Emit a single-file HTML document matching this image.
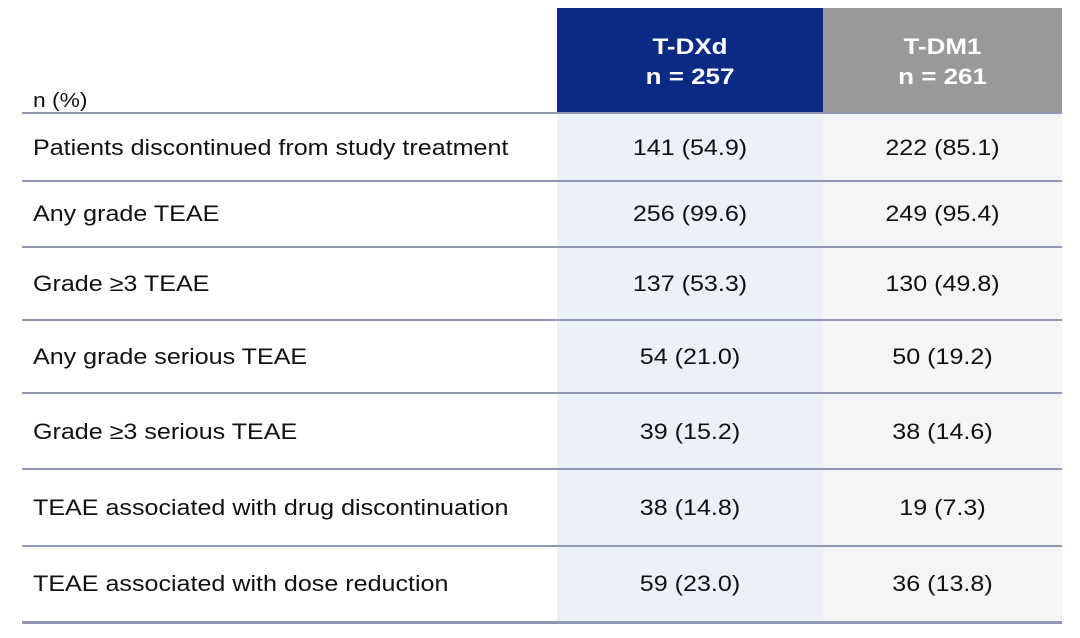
<!DOCTYPE html>
<html><head><style>
body{margin:0;width:1080px;height:638px;background:#fff;position:relative;font-family:"Liberation Sans",Arial,sans-serif;overflow:hidden}
.a{position:absolute}
.hb{left:557px;width:266px;top:8px;height:105px;background:#0a2a84}
.hg{left:823px;width:239px;top:8px;height:105px;background:#999}
.cb{left:557px;width:266px;top:113px;height:511px;background:#ebf0f9}
.cg{left:823px;width:239px;top:113px;height:511px;background:#f5f5f5}
.h{color:#fff;font-weight:bold;font-size:22px;text-align:center;line-height:30px;top:32px;transform:scaleX(1.18)}
.ln{left:22px;width:1040px;height:2px;background:#8f97b2}
.t{font-size:22px;color:#111;line-height:26px;transform:scaleX(1.14);transform-origin:0 0;white-space:nowrap}
.v{font-size:22px;color:#111;text-align:center;line-height:26px;transform:scaleX(1.14)}
</style></head><body>
<div class="a hb"></div><div class="a hg"></div>
<div class="a cb"></div><div class="a cg"></div>
<div class="a h" style="left:557px;width:266px">T-DXd<br>n = 257</div>
<div class="a h" style="left:823px;width:239px">T-DM1<br>n = 261</div>
<div class="a t" style="left:33px;top:88px;font-size:20px">n (%)</div>
<div class="a ln" style="top:112px"></div>
<div class="a ln" style="top:180px"></div>
<div class="a ln" style="top:246px"></div>
<div class="a ln" style="top:319px"></div>
<div class="a ln" style="top:392px"></div>
<div class="a ln" style="top:468px"></div>
<div class="a ln" style="top:545px"></div>
<div class="a ln" style="top:621px;height:3px"></div>

<div class="a t" style="left:33px;top:135px">Patients discontinued from study treatment</div>
<div class="a v" style="left:557px;width:266px;top:135px">141 (54.9)</div>
<div class="a v" style="left:823px;width:239px;top:135px">222 (85.1)</div>

<div class="a t" style="left:33px;top:201px">Any grade TEAE</div>
<div class="a v" style="left:557px;width:266px;top:201px">256 (99.6)</div>
<div class="a v" style="left:823px;width:239px;top:201px">249 (95.4)</div>

<div class="a t" style="left:33px;top:271px">Grade ≥3 TEAE</div>
<div class="a v" style="left:557px;width:266px;top:271px">137 (53.3)</div>
<div class="a v" style="left:823px;width:239px;top:271px">130 (49.8)</div>

<div class="a t" style="left:33px;top:344px">Any grade serious TEAE</div>
<div class="a v" style="left:557px;width:266px;top:344px">54 (21.0)</div>
<div class="a v" style="left:823px;width:239px;top:344px">50 (19.2)</div>

<div class="a t" style="left:33px;top:419px">Grade ≥3 serious TEAE</div>
<div class="a v" style="left:557px;width:266px;top:419px">39 (15.2)</div>
<div class="a v" style="left:823px;width:239px;top:419px">38 (14.6)</div>

<div class="a t" style="left:33px;top:495px">TEAE associated with drug discontinuation</div>
<div class="a v" style="left:557px;width:266px;top:495px">38 (14.8)</div>
<div class="a v" style="left:823px;width:239px;top:495px">19 (7.3)</div>

<div class="a t" style="left:33px;top:571px">TEAE associated with dose reduction</div>
<div class="a v" style="left:557px;width:266px;top:571px">59 (23.0)</div>
<div class="a v" style="left:823px;width:239px;top:571px">36 (13.8)</div>
</body></html>
